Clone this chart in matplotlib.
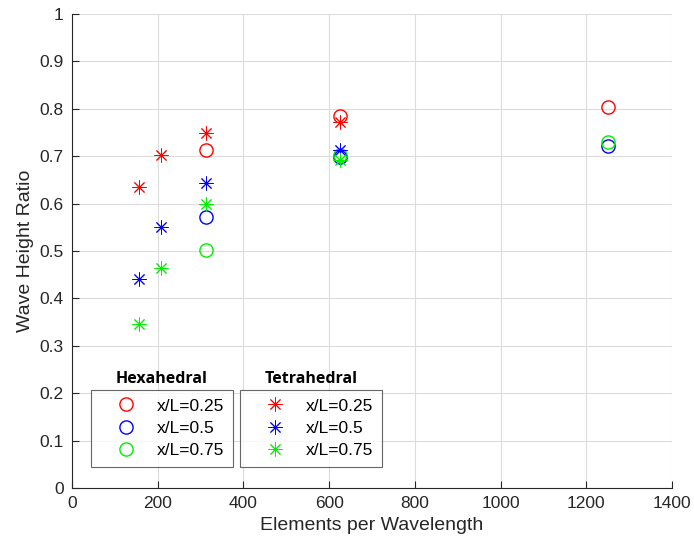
import matplotlib
matplotlib.use("Agg")
import matplotlib.pyplot as plt

# elements per wavelength
x_hex = [312.5, 625, 1250]
x_tet = [156.25, 208.33, 312.5, 625]

# wave height ratio, hexahedral mesh
hex_025 = [0.714, 0.784, 0.803]
hex_050 = [0.571, 0.698, 0.721]
hex_075 = [0.503, 0.702, 0.730]

# wave height ratio, tetrahedral mesh
tet_025 = [0.634, 0.703, 0.748, 0.773]
tet_050 = [0.440, 0.550, 0.643, 0.714]
tet_075 = [0.347, 0.465, 0.599, 0.691]

labels = ["x/L=0.25", "x/L=0.5", "x/L=0.75"]
colors = ["#ff0000", "#0000ff", "#00ee00"]

plt.rcParams['font.family'] = ['Liberation Sans', 'DejaVu Sans']
axcol = "#262626"

fig = plt.figure(figsize=(6.94, 5.48), dpi=100)
ax = fig.add_axes([0.1037, 0.1095, 0.8645, 0.865])

star = (8, 2, 0)
hex_handles = []
for y, c, lab in zip([hex_025, hex_050, hex_075], colors, labels):
    h, = ax.plot(x_hex, y, linestyle="none", marker="o", markersize=9.5,
                 markerfacecolor="none", markeredgecolor=c, markeredgewidth=1.0, label=lab)
    hex_handles.append(h)
tet_handles = []
for y, c, lab in zip([tet_025, tet_050, tet_075], colors, labels):
    h, = ax.plot(x_tet, y, linestyle="none", marker=star, markersize=10,
                 color=c, markeredgewidth=0.7, label=lab)
    tet_handles.append(h)

ax.set_xlim(0, 1400)
ax.set_ylim(0, 1)
ax.set_xticks(range(0, 1401, 200))
ax.set_yticks([i / 10 for i in range(11)])
ax.set_yticklabels(["0", "0.1", "0.2", "0.3", "0.4", "0.5", "0.6", "0.7", "0.8", "0.9", "1"])
ax.grid(True, color="#dcdcdc", linewidth=0.8)
ax.set_axisbelow(True)
for s in ["top", "right"]:
    ax.spines[s].set_visible(False)
for s in ["left", "bottom"]:
    ax.spines[s].set_color(axcol)
    ax.spines[s].set_linewidth(0.8)
ax.tick_params(direction="in", length=5, width=0.8, colors=axcol, labelsize=12.5, pad=6)
ax.set_xlabel("Elements per Wavelength", fontsize=14, color=axcol)
ax.set_ylabel("Wave Height Ratio", fontsize=14, color=axcol)

leg_kw = dict(loc="lower left", frameon=True, fancybox=False, fontsize=12.5,
              borderaxespad=0, handlelength=3.0, handletextpad=0.3,
              borderpad=0.5, labelspacing=0.42)

leg1 = ax.legend(handles=hex_handles, bbox_to_anchor=(0.032, 0.044), **leg_kw)
leg1.get_frame().set_edgecolor("#404040")
leg1.get_frame().set_linewidth(0.8)
ax.add_artist(leg1)
leg2 = ax.legend(handles=tet_handles, bbox_to_anchor=(0.28, 0.044), **leg_kw)
leg2.get_frame().set_edgecolor("#404040")
leg2.get_frame().set_linewidth(0.8)

ax.text(0.15, 0.213, "Hexahedral", transform=ax.transAxes, fontsize=11.5,
        fontweight="bold", family=["Open Sans", "DejaVu Sans"], ha="center", va="bottom")
ax.text(0.398, 0.213, "Tetrahedral", transform=ax.transAxes, fontsize=11.5,
        fontweight="bold", family=["Open Sans", "DejaVu Sans"], ha="center", va="bottom")

fig.savefig("out.png", dpi=100)
